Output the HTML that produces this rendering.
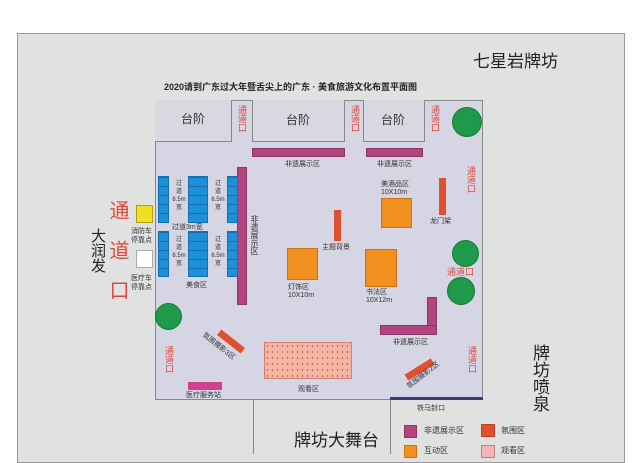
<!DOCTYPE html>
<html><head><meta charset="utf-8"><style>
body{margin:0;width:640px;height:454px;overflow:hidden;background:#fff;font-family:"Liberation Sans","Noto Sans CJK SC",sans-serif;position:relative}
div{position:absolute;box-sizing:border-box}
.t{white-space:nowrap;color:#333;font-size:8px;line-height:1}
.v{writing-mode:vertical-rl;white-space:nowrap;line-height:1}
.red{color:#e0483a}
.b{background:#1e90d8;border:1px solid #1670b0;background-image:linear-gradient(#1670b0 1px,transparent 1px);background-size:100% 9px}
.m{background:#b0457f;border:1px solid #903465}
.o{background:#f0901e;border:1px solid #d07010}
.g{background:#1e9a4a;border-radius:50%;border:1px solid #147a38}
</style></head><body>
<div style="left:17px;top:33px;width:608px;height:430px;background:#e0e1e1;border:1px solid #999"></div>
<div class="t" style="left:473px;top:53px;font-size:17px;color:#222">七星岩牌坊</div>
<div class="t" style="left:164px;top:83px;font-size:9px;font-weight:bold;color:#222">2020请到广东过大年暨舌尖上的广东 · 美食旅游文化布置平面图</div>
<!-- plaza -->
<div style="left:155px;top:100px;width:328px;height:300px;background:#d5d5e3;border:1px solid #888"></div>
<div style="left:155px;top:100px;width:77px;height:42px;background:#d8d8e0;border-right:1px solid #888;border-bottom:1px solid #888"></div>
<div style="left:252px;top:100px;width:93px;height:42px;background:#d8d8e0;border:1px solid #888;border-top:none"></div>
<div style="left:363px;top:100px;width:62px;height:42px;background:#d8d8e0;border:1px solid #888;border-top:none"></div>
<div class="t" style="left:181px;top:113px;font-size:12px">台阶</div>
<div class="t" style="left:286px;top:114px;font-size:12px">台阶</div>
<div class="t" style="left:381px;top:114px;font-size:12px">台阶</div>
<div class="v red" style="left:237px;top:105px;font-size:9px">通道口</div>
<div class="v red" style="left:350px;top:105px;font-size:9px">通道口</div>
<div class="v red" style="left:430px;top:105px;font-size:9px">通道口</div>
<div class="g" style="left:452px;top:107px;width:30px;height:30px"></div>
<div class="m" style="left:252px;top:148px;width:93px;height:9px"></div>
<div class="m" style="left:366px;top:148px;width:57px;height:9px"></div>
<div class="t" style="left:285px;top:161px;font-size:7px">非遗展示区</div>
<div class="t" style="left:377px;top:161px;font-size:7px">非遗展示区</div>
<div class="m" style="left:237px;top:167px;width:10px;height:138px"></div>
<div class="v" style="left:250px;top:215px;font-size:8px;color:#333">非遗展示区</div>
<!-- blue -->
<div class="b" style="left:158px;top:176px;width:11px;height:47px"></div>
<div class="b" style="left:188px;top:176px;width:20px;height:47px"></div>
<div class="b" style="left:227px;top:176px;width:11px;height:47px"></div>
<div class="b" style="left:158px;top:231px;width:11px;height:46px"></div>
<div class="b" style="left:188px;top:231px;width:20px;height:46px"></div>
<div class="b" style="left:227px;top:231px;width:11px;height:46px"></div>
<div class="t" style="left:172px;top:180px;font-size:6px;width:14px;text-align:center;line-height:8px;white-space:normal">过<br>道<br>6.5m<br>宽</div>
<div class="t" style="left:211px;top:180px;font-size:6px;width:14px;text-align:center;line-height:8px;white-space:normal">过<br>道<br>6.5m<br>宽</div>
<div class="t" style="left:172px;top:236px;font-size:6px;width:14px;text-align:center;line-height:8px;white-space:normal">过<br>道<br>6.5m<br>宽</div>
<div class="t" style="left:211px;top:236px;font-size:6px;width:14px;text-align:center;line-height:8px;white-space:normal">过<br>道<br>6.5m<br>宽</div>
<div class="t" style="left:172px;top:224px;font-size:7px">过道3m宽</div>
<div class="t" style="left:186px;top:282px;font-size:7px">美食区</div>
<!-- left outside -->
<div style="left:136px;top:205px;width:17px;height:18px;background:#f0e020;border:1px solid #b0a010"></div>
<div style="left:136px;top:250px;width:17px;height:18px;background:#fff;border:1px solid #aaa"></div>
<div class="t" style="left:131px;top:227px;font-size:7px;line-height:9px">消防车<br>停靠点</div>
<div class="t" style="left:131px;top:274px;font-size:7px;line-height:9px">医疗车<br>停靠点</div>
<div class="v red" style="left:107px;top:200px;font-size:20px;letter-spacing:20px">通道口</div>
<div class="v" style="left:90px;top:228px;font-size:15px;color:#222">大润发</div>
<!-- orange -->
<div class="o" style="left:287px;top:248px;width:31px;height:32px"></div>
<div class="t" style="left:288px;top:284px;font-size:7px;line-height:8px">灯饰区<br>10X10m</div>
<div class="o" style="left:381px;top:198px;width:31px;height:30px"></div>
<div class="t" style="left:381px;top:181px;font-size:7px;line-height:8px">美酒品区<br>10X10m</div>
<div class="o" style="left:365px;top:249px;width:32px;height:38px"></div>
<div class="t" style="left:366px;top:289px;font-size:7px;line-height:8px">书法区<br>10X12m</div>
<div style="left:334px;top:210px;width:7px;height:31px;background:#e05030"></div>
<div class="t" style="left:322px;top:244px;font-size:7px">主题背景</div>
<div style="left:439px;top:178px;width:7px;height:37px;background:#e05030"></div>
<div class="t" style="left:430px;top:218px;font-size:7px">龙门架</div>
<div class="v red" style="left:466px;top:166px;font-size:9px">通道口</div>
<div class="g" style="left:452px;top:240px;width:27px;height:27px"></div>
<div class="t red" style="left:447px;top:268px;font-size:9px">通道口</div>
<div class="g" style="left:447px;top:277px;width:28px;height:28px"></div>
<!-- lower -->
<div class="g" style="left:155px;top:303px;width:27px;height:27px"></div>
<div class="m" style="left:427px;top:297px;width:10px;height:38px"></div>
<div class="m" style="left:380px;top:325px;width:57px;height:10px"></div>
<div class="t" style="left:393px;top:339px;font-size:7px">非遗展示区</div>
<div style="left:264px;top:342px;width:88px;height:37px;background:#f5b5a5;border:1px solid #d08070;background-image:radial-gradient(#c06050 0.6px,transparent 0.9px);background-size:5px 6px"></div>
<div class="t" style="left:298px;top:386px;font-size:7px">观看区</div>
<div style="left:216px;top:338px;width:30px;height:7px;background:#e05030;transform:rotate(38deg)"></div>
<div class="t" style="left:199px;top:343px;font-size:7px;transform:rotate(38deg)">氛围摄影3区</div>
<div style="left:404px;top:366px;width:31px;height:7px;background:#e05030;transform:rotate(-32deg)"></div>
<div class="t" style="left:404px;top:372px;font-size:7px;transform:rotate(-38deg)">氛围摄影2区</div>
<div class="v red" style="left:164px;top:346px;font-size:9px">通道口</div>
<div class="v red" style="left:467px;top:346px;font-size:9px">通道口</div>
<div style="left:188px;top:382px;width:34px;height:8px;background:#d04090"></div>
<div class="t" style="left:186px;top:392px;font-size:7px">医疗服务站</div>
<!-- bottom -->
<div style="left:253px;top:400px;width:1px;height:54px;background:#888"></div>
<div style="left:390px;top:398px;width:1px;height:56px;background:#888"></div>
<div style="left:390px;top:397px;width:93px;height:3px;background:#3a3a80"></div>
<div class="t" style="left:417px;top:405px;font-size:7px">铁马封口</div>
<div class="t" style="left:294px;top:432px;font-size:17px;color:#222">牌坊大舞台</div>
<div class="v" style="left:531px;top:344px;font-size:17px;color:#222">牌坊喷泉</div>
<div class="m" style="left:404px;top:425px;width:13px;height:13px"></div>
<div class="o" style="left:404px;top:445px;width:13px;height:13px"></div>
<div style="left:481px;top:424px;width:14px;height:13px;background:#e05030;border:1px solid #c04020"></div>
<div style="left:481px;top:445px;width:14px;height:13px;background:#f5b5b5;border:1px solid #c08080"></div>
<div class="t" style="left:424px;top:427px;font-size:8px">非遗展示区</div>
<div class="t" style="left:424px;top:447px;font-size:8px">互动区</div>
<div class="t" style="left:501px;top:427px;font-size:8px">氛围区</div>
<div class="t" style="left:501px;top:447px;font-size:8px">观看区</div>
</body></html>
